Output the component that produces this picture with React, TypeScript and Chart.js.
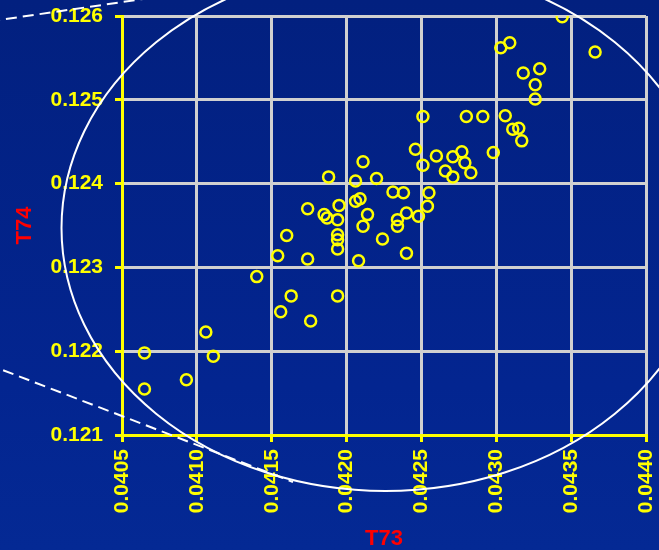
import { useEffect, useRef } from "react";
import { Chart, registerables } from "chart.js";

Chart.register(...registerables);

// T73 / T74 sample pairs
const t73 = [
  0.04065, 0.04065, 0.04093, 0.04106, 0.04111, 0.0414, 0.04154, 0.0416, 0.04174, 0.04163,
  0.04156, 0.04176, 0.04174, 0.04185, 0.04187, 0.04194, 0.04195, 0.04188, 0.04206, 0.04211,
  0.0422, 0.04206, 0.04209, 0.04214, 0.04211, 0.04194, 0.04194, 0.04194, 0.04194, 0.04208,
  0.04224, 0.0424, 0.04231, 0.04238, 0.04234, 0.04234, 0.0424, 0.04248, 0.04254, 0.04255,
  0.04251, 0.04246, 0.04251, 0.0426, 0.04266, 0.04271, 0.04271, 0.04277, 0.04279, 0.04283,
  0.0428, 0.04291, 0.04298, 0.04306, 0.04311, 0.04315, 0.04317, 0.04326, 0.04326, 0.04329,
  0.04318, 0.04303, 0.04309, 0.04344, 0.04366,
];
const t74 = [
  0.12198, 0.12155, 0.12166, 0.12223, 0.12194, 0.12289, 0.12314, 0.12338, 0.1231, 0.12266,
  0.12247, 0.12236, 0.1237, 0.12363, 0.12359, 0.12357, 0.12374, 0.12408, 0.12403, 0.12426,
  0.12406, 0.12379, 0.12382, 0.12363, 0.12349, 0.12339, 0.12333, 0.12322, 0.12266, 0.12308,
  0.12334, 0.12317, 0.1239, 0.12389, 0.12357, 0.12349, 0.12365, 0.12361, 0.12373, 0.12389,
  0.12422, 0.12441, 0.1248, 0.12433, 0.12415, 0.12432, 0.12408, 0.12438, 0.12425, 0.12413,
  0.1248, 0.1248, 0.12437, 0.12481, 0.12465, 0.12466, 0.12451, 0.12501, 0.12518, 0.12537,
  0.12532, 0.12562, 0.12568, 0.12599, 0.12557,
];

// axis ranges
const xRange = [0.0405, 0.044];
const xStep = 0.0005;
const yRange = [0.121, 0.126];
const yStep = 0.001;

// confidence ellipse: centre and semi-axes in data units
const ellipseCenter = [0.04226, 0.12347];
const ellipseRadii = [0.002164, 0.003138];

// dashed guide segments: [x1, y1, x2, y2]
const upperGuide = [0.0395, 0.125905, 0.040687, 0.126215];
const lowerGuide = [0.0396, 0.121846, 0.041642, 0.120439];

const YELLOW = "#ffff00";
const GRID = "rgb(208,208,208)";
const FONT = "'Liberation Sans', Arial, sans-serif";

// keep the plot frame fixed: no extra room reserved for edge labels
function zeroPadding(scale: any) {
  scale.paddingLeft = 0;
  scale.paddingRight = 0;
  scale.paddingTop = 0;
  scale.paddingBottom = 0;
}

export default function App() {
  const ref = useRef<HTMLCanvasElement>(null);

  useEffect(() => {
    const canvas = ref.current;
    if (!canvas) return;

    const overlay = {
      id: "ellipseOverlay",
      beforeDatasetsDraw(chart: any) {
        const { ctx, scales } = chart;
        const xs = scales.x;
        const ys = scales.y;
        const px = (v: number) => xs.getPixelForValue(v);
        const py = (v: number) => ys.getPixelForValue(v);
        ctx.save();
        ctx.strokeStyle = "#ffffff";
        ctx.lineWidth = 2;
        const cx = px(ellipseCenter[0]);
        const cy = py(ellipseCenter[1]);
        const rx = Math.abs(px(ellipseCenter[0] + ellipseRadii[0]) - cx);
        const ry = Math.abs(py(ellipseCenter[1] + ellipseRadii[1]) - cy);
        ctx.beginPath();
        ctx.ellipse(cx, cy, rx, ry, 0, 0, Math.PI * 2);
        ctx.stroke();
        ctx.setLineDash([11, 6]);
        for (const seg of [upperGuide, lowerGuide]) {
          ctx.beginPath();
          ctx.moveTo(px(seg[0]), py(seg[1]));
          ctx.lineTo(px(seg[2]), py(seg[3]));
          ctx.stroke();
        }
        ctx.restore();
      },
    };

    const chart = new Chart(canvas, {
      type: "scatter",
      data: {
        datasets: [
          {
            label: "T74 vs T73",
            data: t73.map((v, i) => ({ x: v, y: t74[i] })),
            pointStyle: "circle",
            pointRadius: 5.5,
            borderColor: YELLOW,
            backgroundColor: "rgba(0,0,0,0)",
            borderWidth: 2.5,
          },
        ],
      },
      options: {
        responsive: false,
        animation: false,
        devicePixelRatio: 1,
        events: [],
        layout: { padding: { left: 0, top: 16, right: 13, bottom: 0 } },
        plugins: {
          legend: { display: false },
          tooltip: { enabled: false },
        },
        scales: {
          x: {
            type: "linear",
            min: xRange[0],
            max: xRange[1],
            ticks: {
              stepSize: xStep,
              autoSkip: false,
              minRotation: 90,
              maxRotation: 90,
              padding: 7,
              color: YELLOW,
              font: { family: FONT, size: 21, weight: "bold" },
              callback: (v: any) => Number(v).toFixed(4),
            },
            grid: {
              color: GRID,
              lineWidth: 3,
              tickColor: YELLOW,
              tickLength: 7,
              tickWidth: 3,
            },
            border: { display: true, color: YELLOW, width: 3 },
            title: {
              display: true,
              text: "T73",
              color: "#ff0000",
              font: { family: FONT, size: 22, weight: "bold", lineHeight: 1 },
              padding: { top: 0, bottom: 0 },
            },
            afterFit(scale: any) {
              scale.height = 115;
              zeroPadding(scale);
            },
          },
          y: {
            type: "linear",
            min: yRange[0],
            max: yRange[1],
            ticks: {
              stepSize: yStep,
              autoSkip: false,
              padding: 12,
              color: YELLOW,
              font: { family: FONT, size: 21, weight: "bold" },
              callback: (v: any) => Number(v).toFixed(3),
            },
            grid: {
              color: GRID,
              lineWidth: 3,
              tickColor: YELLOW,
              tickLength: 7,
              tickWidth: 3,
            },
            border: { display: true, color: YELLOW, width: 3 },
            title: {
              display: true,
              text: "T74",
              color: "#ff0000",
              font: { family: FONT, size: 22, weight: "bold", lineHeight: 1 },
              padding: { top: 14, bottom: 0 },
            },
            afterFit(scale: any) {
              scale.width = 122;
              zeroPadding(scale);
            },
          },
        },
      },
      plugins: [overlay],
    } as any);

    return () => chart.destroy();
  }, []);

  return (
    <div
      style={{
        position: "fixed",
        left: 0,
        top: 0,
        width: 659,
        height: 550,
        background: "linear-gradient(to bottom, #02207f 0%, #032590 70%, #042994 100%)",
      }}
    >
      <canvas ref={ref} width={659} height={550} style={{ display: "block" }} />
    </div>
  );
}
